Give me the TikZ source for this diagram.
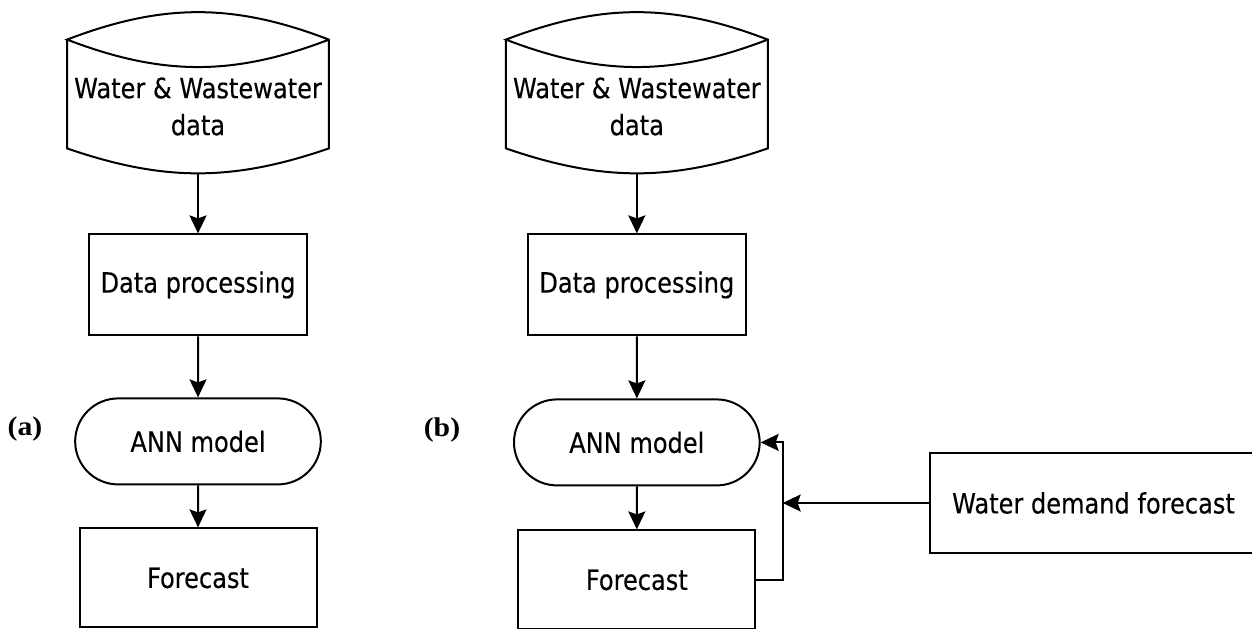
\documentclass[tikz,border=0pt]{standalone}
\usepackage{fontspec}
\setmainfont{DejaVu Sans}[FakeStretch=0.86, FakeBold=0.3]
\newfontfamily\tagfont{Liberation Serif}
\usetikzlibrary{arrows.meta,positioning,calc,shapes.misc}

% outline of a data store: lens-shaped top, curved bottom
\newcommand{\storeoutline}[1]{%
  \draw[line width=1pt] (#1.north west) -- ($(#1.south west)+(0,12.5pt)$)
    to[bend right=19] ($(#1.south east)+(0,12.5pt)$) -- (#1.north east)
    to[bend right=21] (#1.north west) to[bend right=21] (#1.north east);}

\begin{document}
\begin{tikzpicture}[
    node distance=30pt,
    every node/.style={font=\fontsize{14}{18.5}\selectfont},
    store/.style={rectangle, minimum width=130pt, minimum height=66.5pt, align=center},
    process/.style={rectangle, draw, line width=1pt, minimum width=109pt, minimum height=50.5pt},
    terminal/.style={rounded rectangle, draw, line width=1pt, minimum width=129.5pt, minimum height=43pt},
    result/.style={rectangle, draw, line width=1pt, minimum width=118.5pt, minimum height=49.5pt},
    flow/.style={-{Stealth[length=9pt,width=8.5pt,inset=1.5pt]}, line width=1pt},
    paneltag/.style={font=\tagfont\bfseries\fontsize{13.5}{15}\selectfont, xscale=1.1, transform shape}
]
\useasboundingbox (0,0) rectangle (626pt,-314pt);

% (a) plain ANN chain
\node [store] (dbA) at (99pt,-53.25pt) {Water \& Wastewater\\data};
\node [process, below=of dbA] (dpA) {Data processing};
\node [terminal, below=30.5pt of dpA] (annA) {ANN model};
\node [result, below=21pt of annA] (fcA) {Forecast};
\node [paneltag] (tagA) at (12.5pt,-214.5pt) {(a)};

% (b) chain with demand forecast fed back
\node [store, right=88.5pt of dbA] (dbB) {Water \& Wastewater\\data};
\node [process, below=of dbB] (dpB) {Data processing};
\node [terminal, below=31pt of dpB] (annB) {ANN model};
\node [result, below=21.5pt of annB] (fcB) {Forecast};
\node [paneltag] (tagB) at (221pt,-215pt) {(b)};

\node [process, minimum width=163.5pt, minimum height=50pt, anchor=west] (wdf) at (464.5pt,-251.5pt) {Water demand forecast};

\storeoutline{dbA}
\storeoutline{dbB}

\draw [flow] (dbA) -- (dpA);
\draw [flow] (dpA) -- (annA);
\draw [flow] (annA) -- (fcA);

\draw [flow] (dbB) -- (dpB);
\draw [flow] (dpB) -- (annB);
\draw [flow] (annB) -- (fcB);

\coordinate (junc) at ($(annB.east |- wdf.west)+(11pt,0)$);
\draw [flow] (fcB.east) -| (junc) |- (annB.east);
\draw [flow] (wdf) -- (junc);

\end{tikzpicture}
\end{document}
